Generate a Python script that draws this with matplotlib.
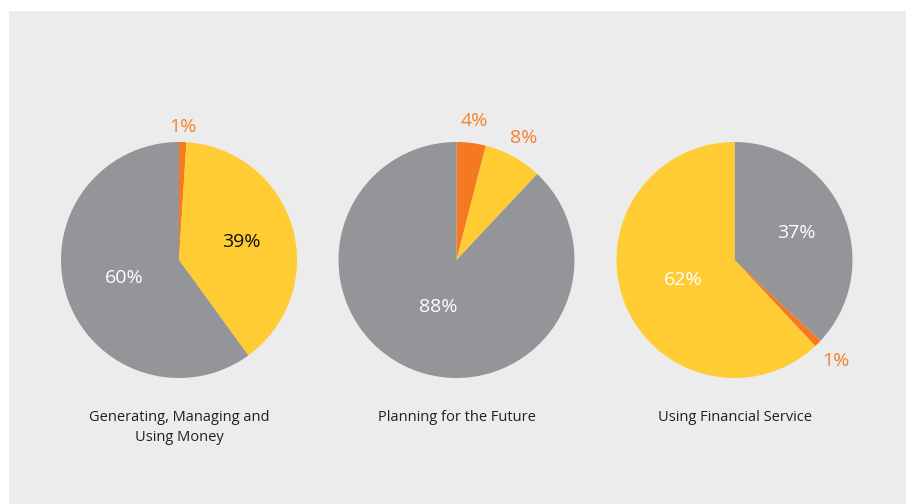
import numpy as np
import matplotlib
matplotlib.use("Agg")
import matplotlib.pyplot as plt
from matplotlib.patches import Rectangle

plt.rcParams['font.family'] = ['Open Sans', 'DejaVu Sans']

# share of respondents per topic, slices listed clockwise from 12 o'clock
titles = ["Generating, Managing and\nUsing Money",
          "Planning for the Future",
          "Using Financial Service"]
slice_kinds = [["orange", "yellow", "grey"],
               ["orange", "yellow", "grey"],
               ["grey", "orange", "yellow"]]
values = [[1, 39, 60],
          [4, 8, 88],
          [37, 1, 62]]

colors = {"grey": "#939598", "yellow": "#ffcc33", "orange": "#f47920"}
# small slices get their label outside in orange, big ones inside
label_colors = [["#f4822f", "#111111", "white"],
                ["#f4822f", "#f4822f", "white"],
                ["white", "#f4822f", "white"]]
# label distance from the centre, in units of radius
label_dist = [[1.13, 0.55, 0.49],
              [1.19, 1.18, 0.43],
              [0.57, 1.21, 0.47]]

W, H = 906, 504
centers_x = [179, 456.5, 734.5]
center_y = H - 260
radius = 118
box = 300

fig = plt.figure(figsize=(W / 100, H / 100), dpi=100)
fig.patch.set_facecolor("white")
fig.patches.append(Rectangle((9 / W, 0), 1 - 9 / W, (H - 11) / H,
                             transform=fig.transFigure, facecolor="#ececec",
                             edgecolor="none", zorder=-1))

lim = box / 2 / radius
for i, cx in enumerate(centers_x):
    ax = fig.add_axes([(cx - box / 2) / W, (center_y - box / 2) / H, box / W, box / H])
    ax.axis("off")

    vals = values[i]
    ax.pie(vals, colors=[colors[k] for k in slice_kinds[i]], startangle=90,
           counterclock=False, radius=1, wedgeprops=dict(linewidth=0))
    ax.set_xlim(-lim, lim)
    ax.set_ylim(-lim, lim)
    ax.set_aspect("equal")

    total = float(sum(vals))
    start = 0.0
    for v, c, d in zip(vals, label_colors[i], label_dist[i]):
        mid = (start + v / 2) / total * 2 * np.pi
        start += v
        ax.text(d * np.sin(mid), d * np.cos(mid), "{}%".format(v),
                ha="center", va="center", fontsize=14, color=c)

    fig.text(cx / W, (H - 410) / H, titles[i], ha="center", va="top",
             fontsize=10.5, color="#231f20", linespacing=1.45)

fig.savefig("out.png", dpi=100)
